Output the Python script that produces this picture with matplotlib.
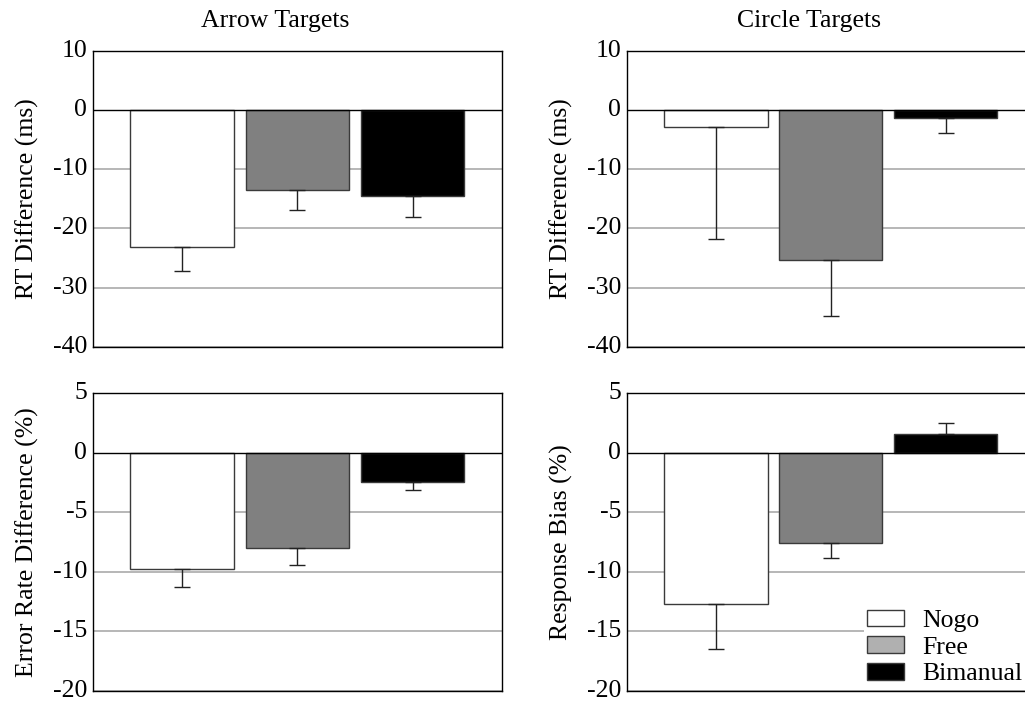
import matplotlib
matplotlib.use("Agg")
import matplotlib.pyplot as plt
import matplotlib.transforms as mtransforms
from matplotlib.patches import Patch
import numpy as np

plt.rcParams['font.family'] = ['Liberation Serif', 'DejaVu Serif']

conditions = ["Nogo", "Free", "Bimanual"]
bar_colors = ["#ffffff", "#808080", "#000000"]
legend_colors = ["#ffffff", "#b0b0b0", "#000000"]

arrow_rt = [-23.1, -13.5, -14.6]
arrow_rt_err = [4.0, 3.4, 3.4]
circle_rt = [-2.9, -25.3, -1.3]
circle_rt_err = [18.9, 9.5, 2.65]
arrow_err = [-9.75, -8.0, -2.45]
arrow_err_err = [1.55, 1.4, 0.65]
circle_bias = [-12.7, -7.55, 1.6]
circle_bias_err = [3.8, 1.25, 0.9]

col_titles = ["Arrow Targets", "Circle Targets"]

W, H = 1025, 701
FS = 18.5
fig = plt.figure(figsize=(W / 100, H / 100), dpi=100)

def px_axes(x0, y0, x1, y1):
    return fig.add_axes([x0 / W, 1 - y1 / H, (x1 - x0) / W, (y1 - y0) / H])

panels = [
    (92.7, 50.7, 502.0, 347.0, arrow_rt, arrow_rt_err, (-40, 10), 10, "RT Difference (ms)"),
    (626.7, 50.7, 1034.8, 347.0, circle_rt, circle_rt_err, (-40, 10), 10, "RT Difference (ms)"),
    (92.7, 393.3, 502.0, 691.0, arrow_err, arrow_err_err, (-20, 5), 5, "Error Rate Difference (%)"),
    (626.7, 393.3, 1034.8, 691.0, circle_bias, circle_bias_err, (-20, 5), 5, "Response Bias (%)"),
]

shift_up = mtransforms.ScaledTranslation(0, 2.5 / 100, fig.dpi_scale_trans)

xpos = np.arange(len(conditions))
axes = []
for (x0, y0, x1, y1, vals, errs, ylim, step, ylab) in panels:
    ax = px_axes(x0, y0, x1, y1)
    axes.append(ax)
    ax.set_xlim(-0.777, 2.777)
    ax.set_ylim(*ylim)
    ticks = np.arange(ylim[0], ylim[1] + 0.1, step)
    ax.set_yticks(ticks)
    ax.set_yticklabels([f"{int(t)}" for t in ticks])
    ax.set_xticks([])
    for t in ticks:
        if t == 0:
            continue
        ax.axhline(t, color="#aaaaaa", lw=1.2, zorder=0)
    ax.axhline(0, color="black", lw=1.0, zorder=3)
    lower = [e if v < 0 else 0 for v, e in zip(vals, errs)]
    upper = [e if v >= 0 else 0 for v, e in zip(vals, errs)]
    ax.bar(xpos, vals, width=0.9, color=bar_colors, edgecolor="#3a3a3a",
           linewidth=1.0, zorder=2)
    ax.errorbar(xpos, vals, yerr=[lower, upper], fmt="none", ecolor="#222222",
                elinewidth=1.0, capsize=6, capthick=1.0, zorder=4)
    ax.tick_params(axis="y", length=0, pad=4, labelsize=FS)
    for lbl in ax.get_yticklabels():
        lbl.set_transform(lbl.get_transform() + shift_up)
    for s in ax.spines.values():
        s.set_linewidth(1.0)
        s.set_color("black")
    ax.set_ylabel(ylab, fontsize=FS, labelpad=10)

fig.text(275 / W, 1 - 21 / H, col_titles[0], ha="center", va="center", fontsize=FS)
fig.text(809 / W, 1 - 21 / H, col_titles[1], ha="center", va="center", fontsize=FS)

handles = [Patch(facecolor=c, edgecolor="#3a3a3a", linewidth=1.0) for c in legend_colors]
leg = axes[3].legend(handles, conditions, loc="upper left",
               bbox_to_anchor=((864 - 626.7) / (1034.8 - 626.7), (691 - 607) / (691 - 393.3)),
               frameon=True, fontsize=FS, handlelength=1.45, handleheight=0.6,
               handletextpad=0.7, labelspacing=0.18, borderaxespad=0, borderpad=0.1)
leg.get_frame().set_facecolor("white")
leg.get_frame().set_edgecolor("none")
leg.get_frame().set_alpha(1.0)
leg.get_frame().set_boxstyle("square", pad=0)

fig.savefig("out.png", dpi=100)
